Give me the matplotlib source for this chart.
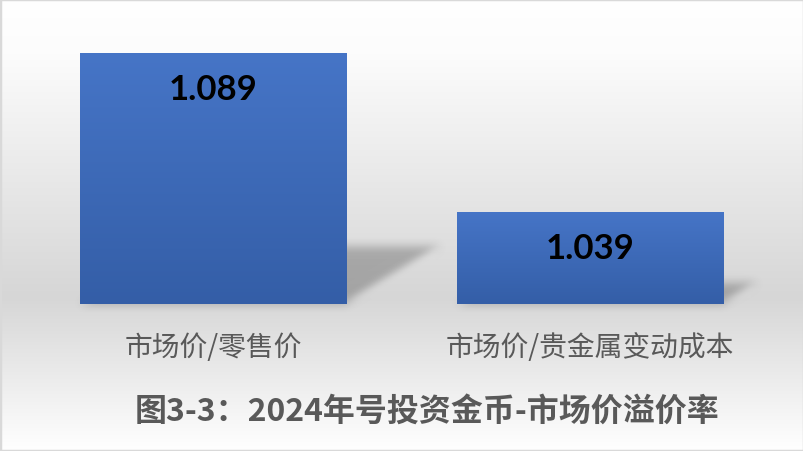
import numpy as np
import matplotlib
matplotlib.use("Agg")
import matplotlib.pyplot as plt
from matplotlib.colors import LinearSegmentedColormap
from matplotlib.patches import Polygon, Rectangle

plt.rcParams['font.family'] = ['Noto Sans CJK SC', 'DejaVu Sans']

# ---- data ----
categories = ["市场价/零售价", "市场价/贵金属变动成本"]
values = [1.089, 1.039]
title = "图3-3：2024年号投资金币-市场价溢价率"
y_min, y_max = 1.01, 1.10

W, H = 804, 452
fig = plt.figure(figsize=(W / 100, H / 100), dpi=100)

# background gradient (white -> grey -> white)
bg = fig.add_axes([0, 0, 1, 1], zorder=-10)
stops = [(0.0, "#ffffff"), (0.12, "#fcfcfc"), (0.66, "#d6d6d6"), (1.0, "#ffffff")]
cmap_bg = LinearSegmentedColormap.from_list("bg", stops)
grad = np.linspace(0, 1, 256).reshape(-1, 1)
bg.imshow(grad, aspect="auto", cmap=cmap_bg, extent=[0, 1, 0, 1], origin="upper")
bg.add_patch(Rectangle((0, 0), 1, 1, transform=bg.transAxes, fill=False,
                       edgecolor="#d9d9d9", linewidth=2.5))
bg.set_xlim(0, 1); bg.set_ylim(0, 1)
bg.axis("off")

ax = fig.add_axes([24.5 / W, (H - 305) / H, 754 / W, 286 / H])
ax.set_facecolor("none")
for s in ax.spines.values():
    s.set_visible(False)

x = np.arange(len(categories))
bars = ax.bar(x, values, width=0.706, bottom=0, color="#3d69b8", zorder=3)
ax.set_xlim(-0.5, len(categories) - 0.5)
ax.set_ylim(y_min, y_max)
fig.canvas.draw()

# gradient fill inside bars
cmap_bar = LinearSegmentedColormap.from_list("bar", ["#4675c7", "#345ea7"])
for b in bars:
    x0, w = b.get_x(), b.get_width()
    top = b.get_height()
    im = ax.imshow(grad, aspect="auto", cmap=cmap_bar,
                   extent=[x0, x0 + w, y_min, top], origin="upper", zorder=4)
    im.set_clip_path(b)


def box(a, r, axis):
    a = np.moveaxis(a, axis, 0)
    c = np.concatenate([np.zeros((1,) + a.shape[1:]), np.cumsum(a, axis=0)])
    n = a.shape[0]
    idx = np.arange(n)
    lo = np.clip(idx - r, 0, n)
    hi = np.clip(idx + r + 1, 0, n)
    out = (c[hi] - c[lo]) / (hi - lo)[(slice(None),) + (None,) * (a.ndim - 1)]
    return np.moveaxis(out, 0, axis)


def blur_filter(img, dpi):
    pad = 24
    a = np.pad(img, ((pad, pad), (pad, pad), (0, 0)))
    for _ in range(3):
        a = box(a, 4, 0)
        a = box(a, 4, 1)
    return a, -pad, -pad


# perspective shadows behind bars (derived from bar geometry)
tr = ax.transData
inv = tr.inverted()
for b in bars:
    x0, w = b.get_x(), b.get_width()
    top = b.get_height()
    (px0, pyb), (px1, pyt) = tr.transform([(x0, y_min), (x0 + w, top)])
    hpx = pyt - pyb
    dx, dy = 0.38 * hpx, 0.23 * hpx
    pts_disp = [(px0, pyb), (px1, pyb), (px1 + dx, pyb + dy), (px0 + dx, pyb + dy)]
    pts = inv.transform(pts_disp)
    poly = Polygon(pts, closed=True, facecolor=(0, 0, 0, 0.24), edgecolor="none",
                   zorder=2)
    poly.set_agg_filter(blur_filter)
    ax.add_patch(poly)

ax.set_xlim(-0.5, len(categories) - 0.5)
ax.set_ylim(y_min, y_max)

# data labels
for xi, v in zip(x, values):
    ax.annotate(f"{v:.3f}", (xi, v), xytext=(0, -36 * 0.72), textcoords="offset points",
                ha="center", va="center", fontsize=25, fontweight="bold",
                color="black", zorder=6, family=["Lato", "DejaVu Sans"])

ax.set_yticks([])
ax.set_xticks(x)
ax.set_xticklabels(categories, fontsize=20, color="#595959")
ax.tick_params(axis="x", length=0, pad=20)

fig.text(427 / W, (H - 412) / H, title, ha="center", va="center", fontsize=23,
         fontweight="bold", color="#595959")

fig.savefig("out.png", dpi=100)
